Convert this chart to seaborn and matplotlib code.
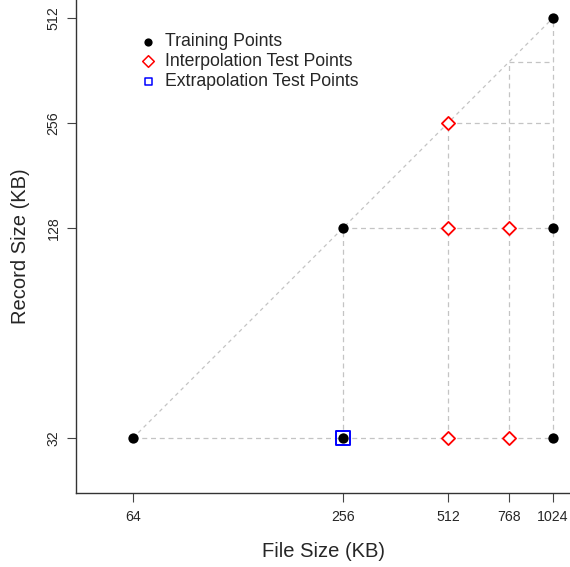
import numpy as np
import pandas as pd
import matplotlib
matplotlib.use("Agg")
import matplotlib.pyplot as plt
import seaborn as sns

# Data (KB)
train_file = [64, 256, 256, 1024, 1024, 1024]
train_record = [32, 32, 128, 32, 128, 512]
interp_file = [512, 512, 768, 512, 768]
interp_record = [256, 128, 128, 32, 32]
extrap_file = [256]
extrap_record = [32]

# guide segments: (x0, x1, y0, y1)
guide_segments = [
    (64, 1024, 32, 32),
    (256, 1024, 128, 128),
    (512, 1024, 256, 256),
    (768, 1024, 384, 384),
    (256, 256, 32, 128),
    (512, 512, 32, 256),
    (768, 768, 32, 384),
    (1024, 1024, 32, 512),
]
diag_x = [64, 1024]
diag_y = [32, 512]

x_ticks = [64, 256, 512, 768, 1024]
y_ticks = [32, 128, 256, 512]

sns.set_style("white")
plt.rcParams['font.family'] = ['Liberation Sans', 'DejaVu Sans']

fig = plt.figure(figsize=(5.7, 5.67), dpi=100)
ax = fig.add_axes([76/570, 74/567, 1 - 76/570, 1 - 74/567])

grid_col = "#c4c4c4"
for x0, x1, y0, y1 in guide_segments:
    ax.plot([x0, x1], [y0, y1], color=grid_col, lw=0.9, ls=(0, (4, 3)), zorder=1)
ax.plot(diag_x, diag_y, color=grid_col, lw=0.9, ls=(0, (3, 3)), zorder=1)

train = pd.DataFrame({"file": train_file, "record": train_record})
interp = pd.DataFrame({"file": interp_file, "record": interp_record})
extrap = pd.DataFrame({"file": extrap_file, "record": extrap_record})

sns.scatterplot(data=train, x="file", y="record", ax=ax, color="black", marker="o",
                s=55, edgecolor="black", linewidth=0, zorder=3, label="Training Points",
                clip_on=False)
sns.scatterplot(data=interp, x="file", y="record", ax=ax, marker="D", s=45,
                facecolor="white", edgecolor="red", linewidth=1.3, zorder=3,
                label="Interpolation Test Points")
sns.scatterplot(data=extrap, x="file", y="record", ax=ax, marker="s", s=110,
                facecolor="none", edgecolor="blue", linewidth=1.4, zorder=2,
                label="Extrapolation Test Points")

ax.set_xscale("log", base=2)
ax.set_yscale("log", base=2)
ax.set_xlim(2 ** 5.457, 2 ** 10.162)
ax.set_ylim(2 ** 4.476, 2 ** 9.171)
ax.minorticks_off()
ax.set_xticks(x_ticks)
ax.set_xticklabels([str(v) for v in x_ticks], fontsize=10.2)
ax.set_yticks(y_ticks)
ax.set_yticklabels([str(v) for v in y_ticks], fontsize=10.2, rotation=90, va="center")
ax.tick_params(axis="both", direction="out", length=6.5, width=0.8, color="#444444",
               bottom=True, left=True)
ax.tick_params(axis="x", pad=5.5)
ax.tick_params(axis="y", pad=4.5)

for side in ["top", "right"]:
    ax.spines[side].set_visible(False)
for side in ["left", "bottom"]:
    ax.spines[side].set_color("#333333")
    ax.spines[side].set_linewidth(1.0)

ax.set_xlabel("File Size (KB)", fontsize=14.5, labelpad=13)
ax.set_ylabel("Record Size (KB)", fontsize=14.5, labelpad=12)

leg = ax.legend(loc="upper left", bbox_to_anchor=(0.114, 0.947), frameon=False,
                fontsize=12.7, handletextpad=0.48, labelspacing=0.16, borderaxespad=0,
                handlelength=1.0)
for h, s in zip(leg.legend_handles, [35, 35, 28]):
    h.set_sizes([s])
    if s == 28:
        h.set_linewidth(1.1)
    elif s == 35 and h.get_edgecolor()[0][0] > 0.5:
        h.set_linewidth(1.1)

fig.savefig("out.png", dpi=100)
